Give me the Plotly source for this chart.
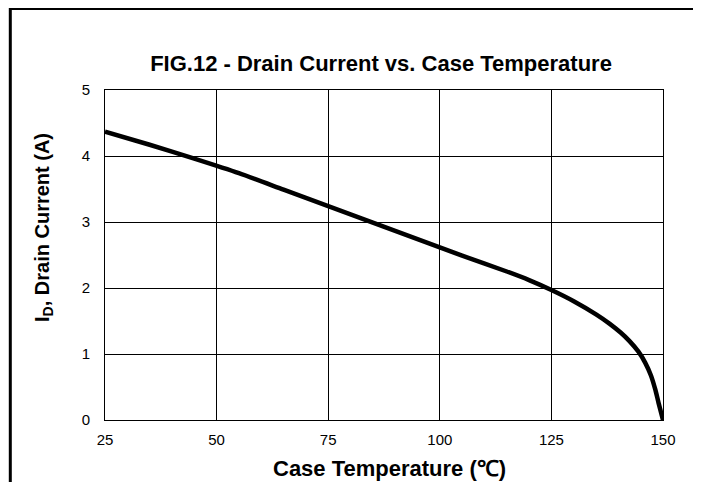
import plotly.graph_objects as go

# Case temperature (deg C) and drain current (A)
temp_c = [25, 35, 45, 55, 65, 75, 85, 95, 105, 115, 120, 125, 130, 135,
          138, 140.5, 142.5, 144.5, 146, 147.3, 148.3, 149, 150]
drain_a = [4.37, 4.17, 3.96, 3.74, 3.49, 3.24, 2.99, 2.74, 2.49, 2.25, 2.12, 1.97, 1.80, 1.60,
           1.46, 1.325, 1.195, 1.035, 0.87, 0.675, 0.455, 0.26, 0.0]

x_ticks = [25, 50, 75, 100, 125, 150]
y_ticks = [0, 1, 2, 3, 4, 5]

FONT = "Liberation Sans, Arial, sans-serif"

# figure is drawn inside the page's 8px body margin, so it is 8px smaller
W, H = 693, 474
L, R, T, B = 97, 38, 82, 62
PW, PH = W - L - R, H - T - B

fig = go.Figure()
fig.add_trace(go.Scatter(
    x=temp_c, y=drain_a, mode="lines",
    line=dict(color="black", width=4.5, shape="spline", smoothing=0.6),
    hoverinfo="skip", showlegend=False,
))

axis_common = dict(
    showgrid=True, gridcolor="black", gridwidth=1,
    showline=True, linecolor="black", linewidth=1, mirror=True,
    zeroline=False, ticks="outside", tickcolor="rgba(0,0,0,0)",
    tickfont=dict(family=FONT, size=15, color="black"),
)
fig.update_xaxes(range=[25, 150], tickvals=x_ticks, ticklen=6, **axis_common)
fig.update_yaxes(range=[0, 5], tickvals=y_ticks, ticklen=11, **axis_common)

fig.update_layout(
    width=W, height=H,
    margin=dict(l=L, r=R, t=T, b=B),
    paper_bgcolor="white", plot_bgcolor="white",
    title=dict(text="<b>FIG.12 - Drain Current vs. Case Temperature</b>",
               x=373 / W, xanchor="center",
               y=1 - 55 / H, yanchor="middle", yref="container",
               font=dict(family=FONT, size=22, color="black")),
    annotations=[
        dict(text="<b>Case Temperature (℃)</b>", xref="paper", yref="paper",
             x=(381 - L) / PW, y=(H - B - 460) / PH,
             xanchor="center", yanchor="middle",
             showarrow=False, font=dict(family=FONT, size=22, color="black")),
        dict(text="<b>I<sub>D</sub>, Drain Current (A)</b>", xref="paper", yref="paper",
             x=(35 - L) / PW, y=(H - B - 220) / PH,
             xanchor="center", yanchor="middle", textangle=-90,
             showarrow=False, font=dict(family=FONT, size=20, color="black")),
    ],
    shapes=[
        # outer frame of the figure
        dict(type="rect", xref="paper", yref="paper",
             x0=(2.3 - L) / PW, x1=(687 - L) / PW,
             y0=-0.5, y1=(H - B - 0.5) / PH,
             line=dict(color="black", width=3), layer="above"),
    ],
)

fig.write_html("out.html")
